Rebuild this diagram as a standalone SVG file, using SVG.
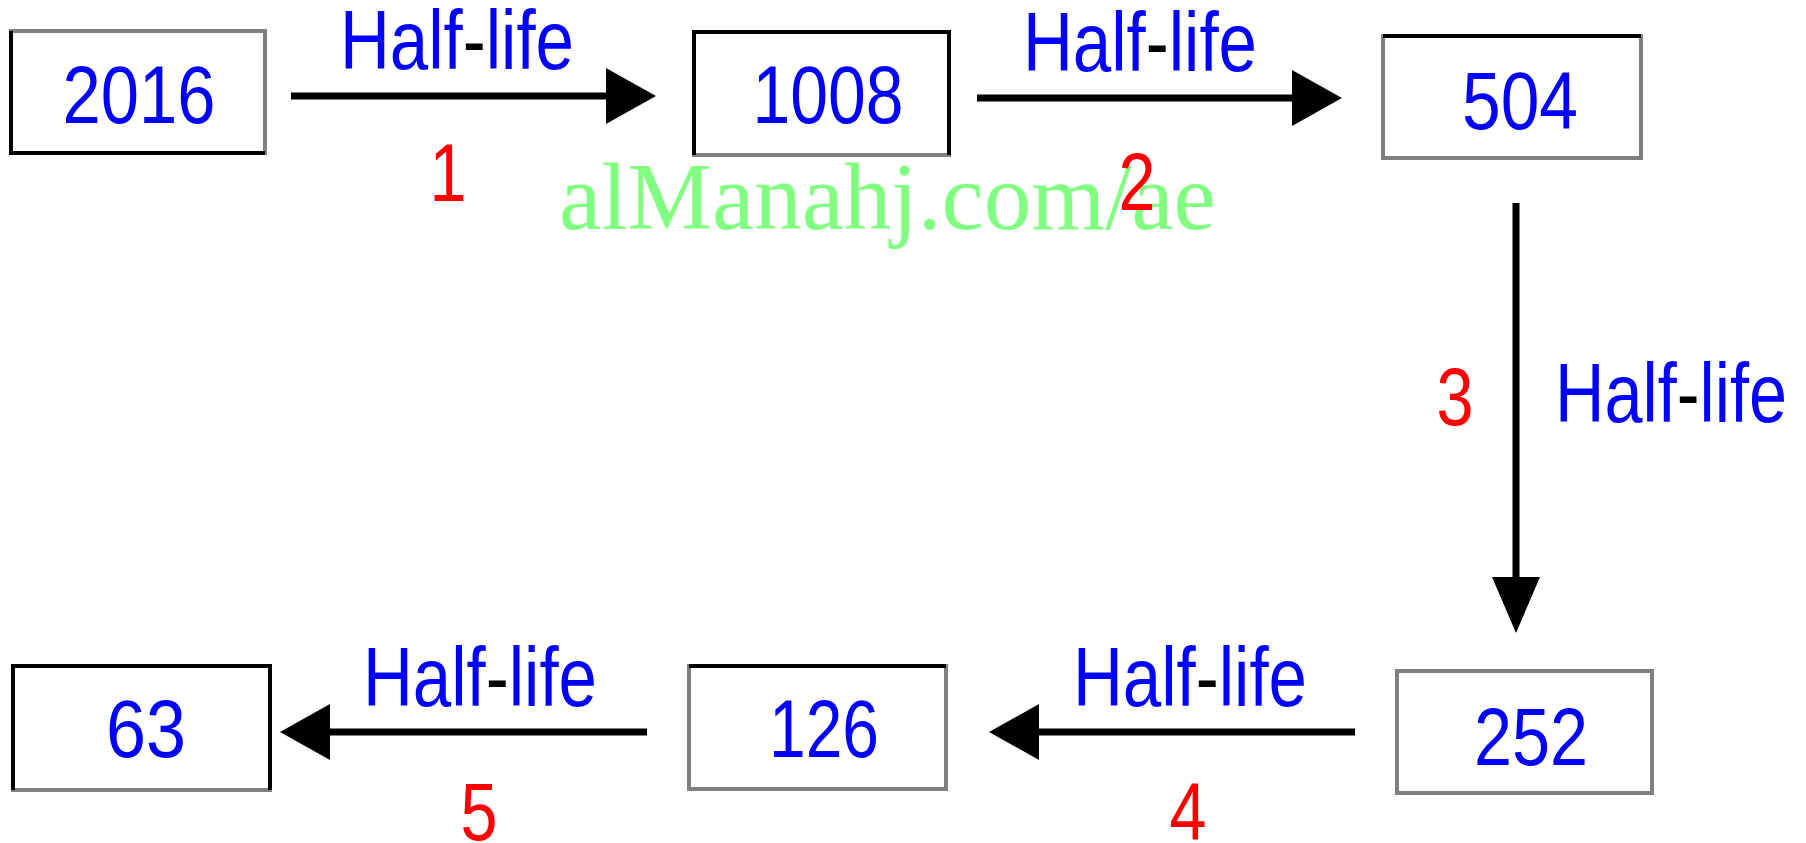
<svg xmlns="http://www.w3.org/2000/svg" width="1806" height="843" viewBox="0 0 1806 843">
<defs>
<style>
.box{fill:#fff;stroke:#808080;stroke-width:4}
.edge{fill:none;stroke:#000;stroke-width:4}
.num{font-family:"Liberation Sans",Arial,sans-serif;font-size:81px;fill:#0000ff;text-anchor:middle}
.hl{font-family:"Liberation Sans",Arial,sans-serif;font-size:83px;fill:#0000ff;text-anchor:middle}
.dash{fill:#000}
.step{font-family:"Liberation Sans",Arial,sans-serif;font-size:81px;fill:#ff0000;text-anchor:middle}
.wm{font-family:"Liberation Serif","Times New Roman",serif;font-size:95px;fill:#80ff80}
.conn{stroke:#000;stroke-width:7;fill:none}
</style>
<marker id="ah" markerUnits="userSpaceOnUse" markerWidth="50" markerHeight="56" refX="0" refY="28" orient="auto" overflow="visible">
<path d="M0,0 L50,28 L0,56 Z" fill="#000"/>
</marker>
<marker id="av" markerUnits="userSpaceOnUse" markerWidth="56" markerHeight="48" refX="0" refY="24" orient="auto" overflow="visible">
<path d="M0,0 L56,24 L0,48 Z" fill="#000"/>
</marker>
</defs>
<rect width="1806" height="843" fill="#fff"/>
<text class="wm" x="559" y="229">alManahj.com/ae</text>
<g id="connectors">
<line class="conn" x1="291" y1="96" x2="606" y2="96" marker-end="url(#ah)"/>
<line class="conn" x1="977" y1="98" x2="1292" y2="98" marker-end="url(#ah)"/>
<line class="conn" x1="1516" y1="203" x2="1516" y2="577" marker-end="url(#av)"/>
<line class="conn" x1="1355" y1="732" x2="1039" y2="732" marker-end="url(#ah)"/>
<line class="conn" x1="647" y1="732" x2="330" y2="732" marker-end="url(#ah)"/>
<text class="hl" x="457" y="69" textLength="234" lengthAdjust="spacingAndGlyphs">Half<tspan class="dash">-</tspan>life</text>
<text class="hl" x="1140" y="71" textLength="234" lengthAdjust="spacingAndGlyphs">Half<tspan class="dash">-</tspan>life</text>
<text class="hl" x="1671" y="422" textLength="232" lengthAdjust="spacingAndGlyphs">Half<tspan class="dash">-</tspan>life</text>
<text class="hl" x="1190" y="706" textLength="234" lengthAdjust="spacingAndGlyphs">Half<tspan class="dash">-</tspan>life</text>
<text class="hl" x="480" y="706" textLength="234" lengthAdjust="spacingAndGlyphs">Half<tspan class="dash">-</tspan>life</text>
<text class="step" x="448" y="201" textLength="37" lengthAdjust="spacingAndGlyphs">1</text>
<text class="step" x="1137" y="210" textLength="37" lengthAdjust="spacingAndGlyphs">2</text>
<text class="step" x="1455" y="425" textLength="37" lengthAdjust="spacingAndGlyphs">3</text>
<text class="step" x="1188" y="840" textLength="37" lengthAdjust="spacingAndGlyphs">4</text>
<text class="step" x="479" y="840" textLength="37" lengthAdjust="spacingAndGlyphs">5</text>
</g>
<g id="n2016">
<rect class="box" x="11" y="31" width="254" height="122"/>
<path class="edge" d="M11,31 V153 H265"/>
<text class="num" x="139" y="123" textLength="153" lengthAdjust="spacingAndGlyphs">2016</text>
</g>
<g id="n1008">
<rect class="box" x="694" y="32" width="255" height="123"/>
<path class="edge" d="M694,155 V32 H949 V155"/>
<text class="num" x="828" y="123" textLength="151" lengthAdjust="spacingAndGlyphs">1008</text>
</g>
<g id="n504">
<rect class="box" x="1383" y="36" width="258" height="122"/>
<path class="edge" d="M1383,36 H1641"/>
<text class="num" x="1520" y="129" textLength="116" lengthAdjust="spacingAndGlyphs">504</text>
</g>
<g id="n252">
<rect class="box" x="1397" y="671" width="255" height="122"/>
<text class="num" x="1531" y="765" textLength="114" lengthAdjust="spacingAndGlyphs">252</text>
</g>
<g id="n126">
<rect class="box" x="689" y="666" width="257" height="123"/>
<path class="edge" d="M689,666 H946"/>
<text class="num" x="824" y="757" textLength="110" lengthAdjust="spacingAndGlyphs">126</text>
</g>
<g id="n63">
<rect class="box" x="13" y="666" width="257" height="124"/>
<path class="edge" d="M13,790 V666 H270 V790"/>
<text class="num" x="146" y="757" textLength="80" lengthAdjust="spacingAndGlyphs">63</text>
</g>
</svg>
